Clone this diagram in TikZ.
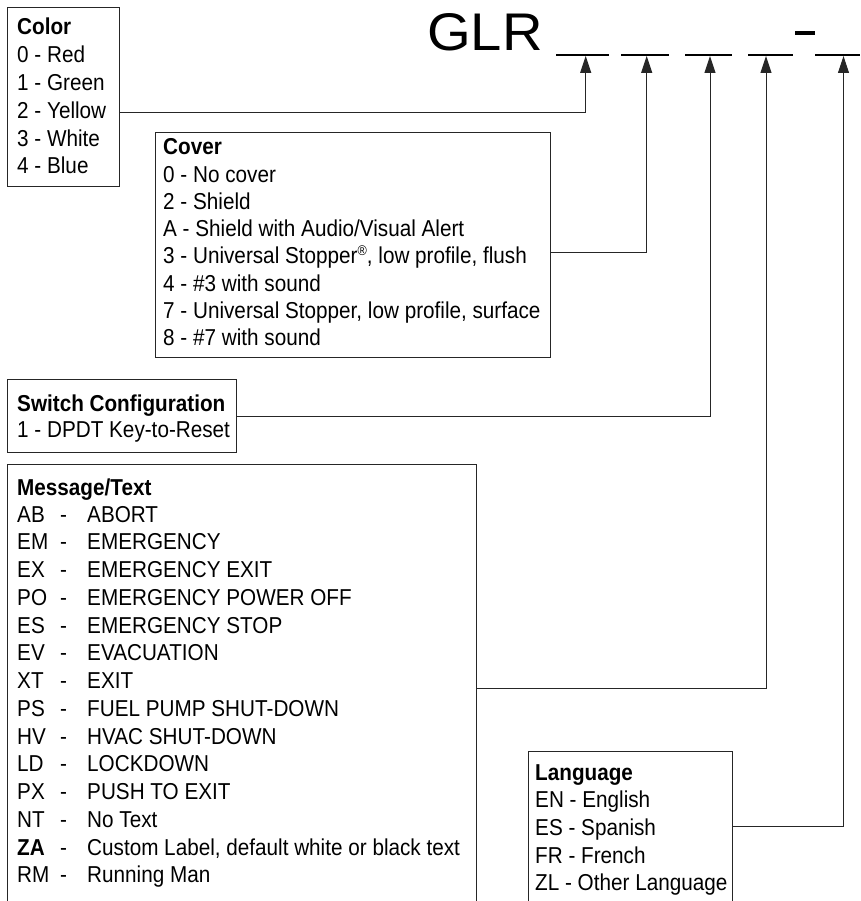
\documentclass[tikz,border=0pt]{standalone}
\usepackage{fontspec}
\setmainfont{Liberation Sans}[FakeStretch=0.9]
\newfontfamily\glrfont{Liberation Sans}[FakeStretch=1.06]
\usetikzlibrary{arrows.meta}
\newcommand{\regmark}{\raisebox{0.7ex}{\fontsize{14}{14}\selectfont ®}}
\begin{document}
\begin{tikzpicture}[x=1pt,y=-1pt,
  box/.style={draw=black!85, line width=1.2pt, anchor=north west, inner sep=0pt},
  lbl/.style={anchor=base west, inner sep=0pt, font=\fontsize{23}{27.7}\selectfont},
  conn/.style={draw=black!85, line width=1pt, -{Triangle[length=17pt,width=11pt]}},
  blank/.style={line width=2.3pt}]
\clip (0,0) rectangle (860,901);
\fill[white] (0,0) rectangle (860,901);
% title
\node[anchor=base west, inner sep=0pt, font=\glrfont\fontsize{53}{53}\selectfont] (glr) at (427,51) {GLR};
\draw[blank] (556,55) -- (609,55);
\draw[blank] (621,55) -- (669,55);
\draw[blank] (685,55) -- (732,55);
\draw[blank] (748,55) -- (793,55);
\draw[line width=3.5pt] (795,33) -- (815,33);
\draw[blank] (815,55) -- (860,55);
% arrow tips
\coordinate (t1) at (585.7,56);
\coordinate (t2) at (646.7,56);
\coordinate (t3) at (710,56);
\coordinate (t4) at (766,56);
\coordinate (t5) at (843.5,56);
% boxes
\node[box, minimum width=112pt, minimum height=179pt] (color) at (7,7) {};
\node[box, minimum width=395pt, minimum height=225pt] (cover) at (155,132) {};
\node[box, minimum width=229pt, minimum height=73pt] (switch) at (7,379) {};
\node[box, minimum width=469pt, minimum height=460pt] (message) at (7,464) {};
\node[box, minimum width=204pt, minimum height=180pt] (language) at (528,751) {};
% texts
\foreach \t [count=\i from 0] in {{\bfseries Color}, 0 - Red, 1 - Green, 2 - Yellow, 3 - White, 4 - Blue}
  \node[lbl] (col\i) at (17,{35+27.8*\i}) {\t};
\foreach \t [count=\i from 0] in {{\bfseries Cover}, 0 - No cover, 2 - Shield, A - Shield with Audio/Visual Alert, {3 - Universal Stopper\regmark, low profile, flush}, 4 - \#3 with sound, {7 - Universal Stopper, low profile, surface}, 8 - \#7 with sound}
  \node[lbl] (cov\i) at (163,{155+27.2*\i}) {\t};
\node[lbl] (sw0) at (17,411) {\bfseries Switch Configuration};
\node[lbl] (sw1) at (17,437) {1 - DPDT Key-to-Reset};
\node[lbl] (msg) at (17,495) {\bfseries Message/Text};
\foreach \c/\d [count=\i from 0] in {AB/ABORT, EM/EMERGENCY, EX/EMERGENCY EXIT, PO/EMERGENCY POWER OFF, ES/EMERGENCY STOP, EV/EVACUATION, XT/EXIT, PS/FUEL PUMP SHUT-DOWN, HV/HVAC SHUT-DOWN, LD/LOCKDOWN, PX/PUSH TO EXIT, NT/No Text, {\bfseries ZA}/{Custom Label, default white or black text}, RM/Running Man}
  {\node[lbl] (mc\i) at (17,{522+27.75*\i}) {\c};
   \node[lbl] (mx\i) at (60,{522+27.75*\i}) {-};
   \node[lbl] (md\i) at (87,{522+27.75*\i}) {\d};}
\foreach \t [count=\i from 0] in {{\bfseries Language}, EN - English, ES - Spanish, FR - French, ZL - Other Language}
  \node[lbl] (lan\i) at (535,{780+27.7*\i}) {\t};
% connectors
\draw[conn] (color.east |- 0,113) -| (t1);
\draw[conn] (cover.east |- 0,252) -| (t2);
\draw[conn] (switch.east |- 0,416) -| (t3);
\draw[conn] (message.east |- 0,688) -| (t4);
\draw[conn] (language.east |- 0,826) -| (t5);
\end{tikzpicture}
\end{document}
